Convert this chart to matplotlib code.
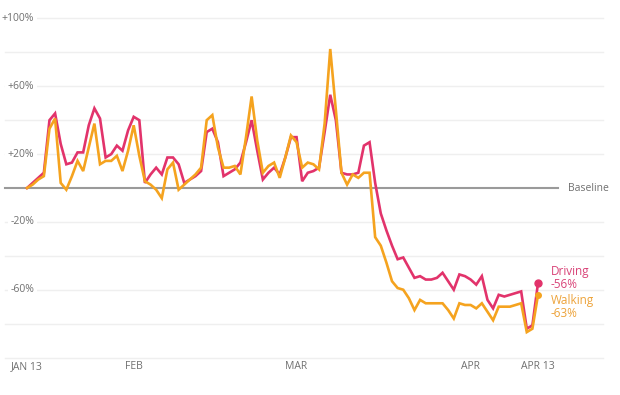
import matplotlib.pyplot as plt
import numpy as np
import pandas as pd

# daily change vs. baseline (%), Jan 13 - Apr 13 2020
dates = pd.date_range('2020-01-13', '2020-04-13')
driving = [0, 3, 6, 9, 40, 44, 26, 14, 15, 21, 21, 37, 47, 41, 18, 20, 25, 22, 34, 42,
           40, 3, 8, 12, 8, 18, 18, 14, 3, 5, 7, 10, 33, 35, 27, 7, 9, 11, 15, 27,
           40, 22, 5, 9, 12, 8, 18, 30, 30, 4, 9, 10, 12, 33, 55, 40, 9, 8, 8, 9,
           25, 27, 3, -15, -25, -34, -42, -41, -47, -53, -52, -54, -54, -53, -50, -55, -60, -51, -52, -54,
           -57, -52, -66, -71, -63, -64, -63, -62, -61, -83, -81, -56]
walking = [0, 2, 5, 7, 35, 41, 3, -1, 7, 16, 10, 24, 38, 14, 16, 16, 19, 10, 22, 37,
           19, 4, 2, -1, -6, 11, 15, -1, 2, 5, 8, 12, 40, 43, 24, 12, 12, 13, 8, 30,
           54, 28, 9, 13, 15, 6, 18, 31, 27, 12, 15, 14, 11, 38, 82, 46, 9, 2, 8, 6,
           9, 9, -29, -34, -44, -55, -59, -60, -65, -72, -66, -68, -68, -68, -68, -72, -77, -68, -69, -69,
           -71, -68, -73, -78, -70, -70, -70, -69, -68, -85, -83, -63]

grid_levels = [100, 80, 60, 40, 20, -20, -40, -60, -80, -100]
y_labels = [100, 60, 20, -20, -60]
x_tick_dates = ['2020-01-13', '2020-02-01', '2020-03-01', '2020-04-01', '2020-04-13']
x_tick_labels = ['JAN 13', 'FEB', 'MAR', 'APR', 'APR 13']

drive_color = '#e2336b'
walk_color = '#f5a31f'
text_gray = '#707070'

plt.rcParams['font.family'] = ['Open Sans', 'DejaVu Sans']

x = np.array((dates - dates[0]).days)
tick_x = [(pd.Timestamp(d) - dates[0]).days for d in x_tick_dates]

fig = plt.figure(figsize=(6.2, 3.95), dpi=100)
ax = fig.add_axes([0, 0, 1, 1])
ax.set_xlim(-4.81, 105.6)
ax.set_ylim(-122.1, 110.9)
ax.axis('off')

ytr = ax.get_yaxis_transform()
xtr = ax.get_xaxis_transform()

# grid and labels
for lv in grid_levels:
    ax.plot([0.008, 0.973], [lv, lv], transform=ytr, color='#efefef', lw=1, zorder=1)
for lv in y_labels:
    ax.text(0.055, lv, f'{lv:+d}%', transform=ytr, ha='right', va='center',
            fontsize=7.5, color=text_gray, zorder=3,
            bbox=dict(boxstyle='square,pad=0.25', fc='white', ec='none'))

ax.plot([0.008, 0.9], [0, 0], transform=ytr, color='#9a9a9a', lw=1.5, zorder=2)
ax.text(0.916, 0, 'Baseline', transform=ytr, ha='left', va='center',
        fontsize=7.5, color=text_gray)

for tx, lab in zip(tick_x, x_tick_labels):
    ax.text(tx, 0.071, lab, transform=xtr, ha='center', va='center',
            fontsize=7.5, color=text_gray)

# series
ax.plot(x, driving, color=drive_color, lw=1.9, zorder=4, solid_joinstyle='miter')
ax.plot(x, walking, color=walk_color, lw=1.9, zorder=5, solid_joinstyle='miter')
ax.plot(x[-1], driving[-1], 'o', color=drive_color, ms=5, zorder=6)
ax.plot(x[-1], walking[-1], 'o', color=walk_color, ms=4, zorder=6)

ax.annotate(f'Driving\n{driving[-1]}%', (x[-1], driving[-1]), xytext=(9, 3.5),
            textcoords='offset points', ha='left', va='center', fontsize=8.5,
            color='#d94478', linespacing=1.0)
ax.annotate(f'Walking\n{walking[-1]}%', (x[-1], walking[-1]), xytext=(9, -8.5),
            textcoords='offset points', ha='left', va='center', fontsize=8.5,
            color='#eda33a', linespacing=1.0)

fig.savefig('out.png', dpi=100)
